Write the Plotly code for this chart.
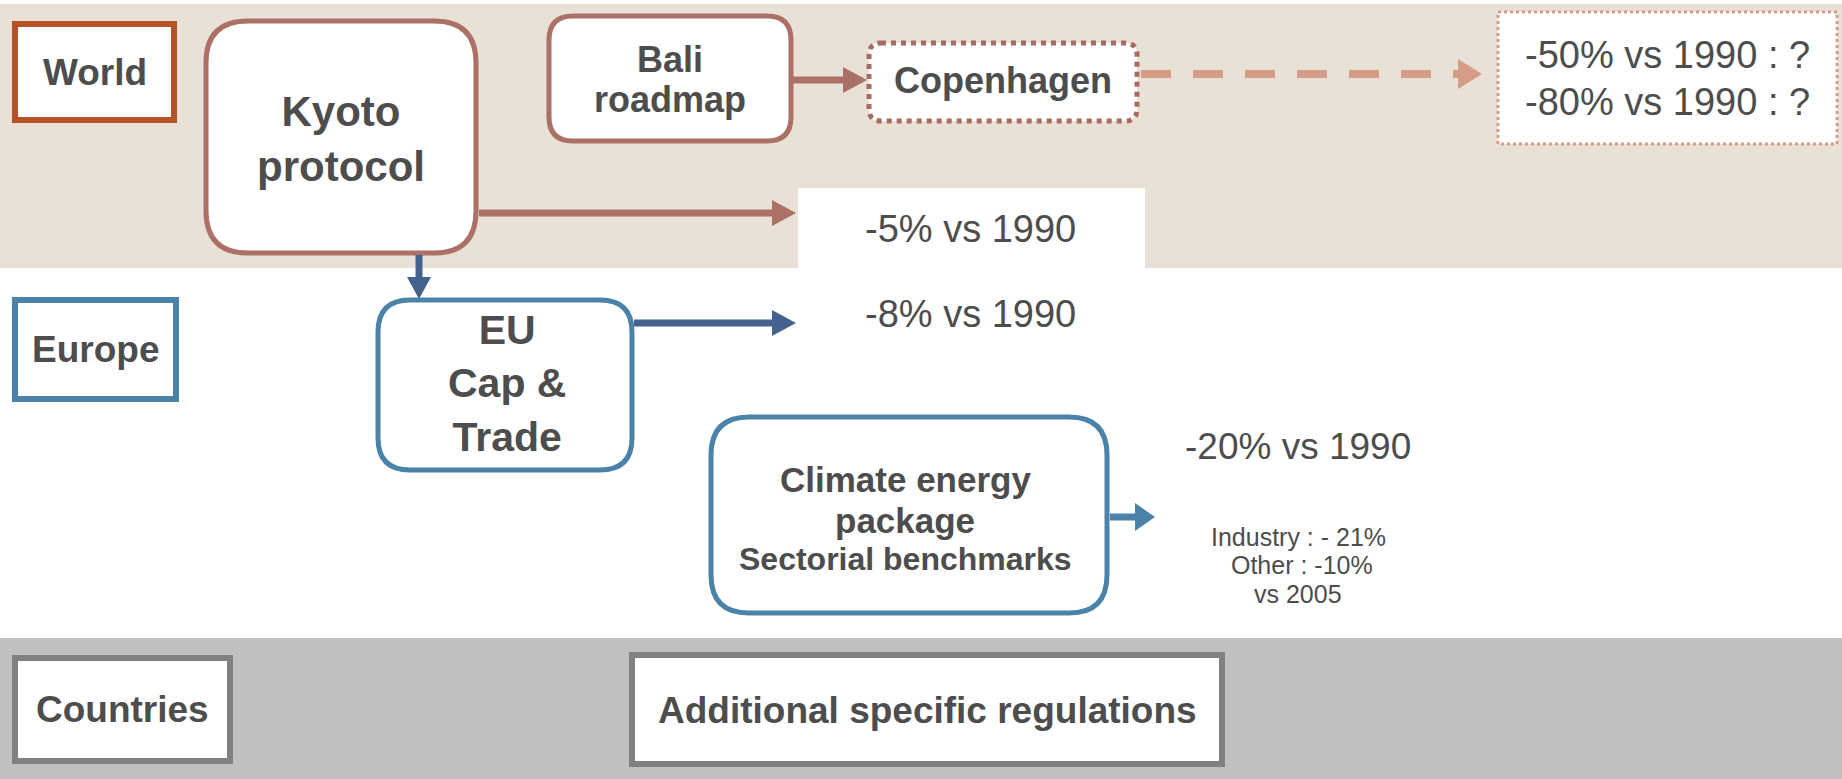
import plotly.graph_objects as go

W, H = 1842, 779
INK = "#4d4d4d"

# levels (row labels) and the measures / targets
levels = ["World", "Europe", "Countries"]
level_boxes = [(12, 21, 177, 123), (12, 297, 179, 402), (12, 655, 233, 764)]
level_colors = ["#b4522a", "#4a82a8", "#808080"]

measures = ["Kyoto<br>protocol", "Bali", "Copenhagen", "EU<br>Cap &<br>Trade",
            "Climate energy", "Additional specific regulations"]
measure_boxes = [(206, 21, 476, 253), (549, 16, 791, 141), (869, 43, 1137, 121),
                 (378, 300, 632, 470), (711, 417, 1107, 613), (632, 655, 1222, 764)]
measure_radius = [42, 24, 12, 32, 38, 0]
measure_colors = ["#ab7166", "#ab7166", "#a86a62", "#4a82a8", "#4a82a8", "#808080"]
measure_dash = ["solid", "solid", "dot", "solid", "solid", "solid"]
measure_sizes = [42, 36, 36, 41, 35, 37]

targets = ["-5% vs 1990", "-8% vs 1990", "-20% vs 1990",
           "-50% vs 1990 : ?", "-80% vs 1990 : ?"]
target_pos = [(970, 229), (970, 314), (1298, 446), (1667, 55), (1667, 102)]

sector_lines = ["Industry : - 21%", " Other : -10%", "vs 2005"]
sector_y = [537, 565, 594]


def rounded(x0, y0, x1, y1, r):
    if r == 0:
        return f"M{x0},{y0} L{x1},{y0} L{x1},{y1} L{x0},{y1} Z"
    return (f"M{x0 + r},{y0} L{x1 - r},{y0} Q{x1},{y0} {x1},{y0 + r} "
            f"L{x1},{y1 - r} Q{x1},{y1} {x1 - r},{y1} L{x0 + r},{y1} "
            f"Q{x0},{y1} {x0},{y1 - r} L{x0},{y0 + r} Q{x0},{y0} {x0 + r},{y0} Z")


shapes = []
# background bands
shapes.append(dict(type="rect", x0=0, y0=4, x1=W, y1=268, fillcolor="#e9e1d5", line_width=0, layer="below"))
shapes.append(dict(type="rect", x0=0, y0=638, x1=W, y1=H, fillcolor="#c0c0c0", line_width=0, layer="below"))
# white target box inside the world band
shapes.append(dict(type="rect", x0=798, y0=188, x1=1145, y1=268, fillcolor="white", line_width=0, layer="below"))
# dotted result box
shapes.append(dict(type="rect", x0=1498, y0=12, x1=1837, y1=144, fillcolor="white",
                   line=dict(color="#d59c8a", width=3, dash="dot")))

for (x0, y0, x1, y1), c in zip(level_boxes, level_colors):
    shapes.append(dict(type="rect", x0=x0 + 3, y0=y0 + 3, x1=x1 - 3, y1=y1 - 3, fillcolor="white",
                       line=dict(color=c, width=6)))

for (x0, y0, x1, y1), r, c, d in zip(measure_boxes, measure_radius, measure_colors, measure_dash):
    lw = 5 if d == "dot" else (6 if r == 0 else 5)
    shapes.append(dict(type="path", path=rounded(x0, y0, x1, y1, r), fillcolor="white",
                       line=dict(color=c, width=lw, dash=d)))


def arrow(x0, y0, x1, y1, color, width, head_len, head_w, dash="solid"):
    # straight arrow, horizontal or vertical
    if y0 == y1:
        bx = x1 - head_len
        shapes.append(dict(type="line", x0=x0, y0=y0, x1=bx, y1=y1, line=dict(color=color, width=width, dash=dash)))
        shapes.append(dict(type="path", path=f"M{bx},{y1 - head_w} L{x1},{y1} L{bx},{y1 + head_w} Z",
                           fillcolor=color, line_width=0))
    else:
        by = y1 - head_len
        shapes.append(dict(type="line", x0=x0, y0=y0, x1=x1, y1=by, line=dict(color=color, width=width)))
        shapes.append(dict(type="path", path=f"M{x1 - head_w},{by} L{x1},{y1} L{x1 + head_w},{by} Z",
                           fillcolor=color, line_width=0))


arrow(479, 213, 796, 213, "#ab7166", 7, 24, 13)
arrow(793, 80, 867, 80, "#ab7166", 7, 24, 13)
arrow(1141, 74, 1482, 74, "#d59c8a", 8, 24, 15, dash="30px,22px")
arrow(419, 255, 419, 299, "#44628e", 7, 22, 12)
arrow(634, 323, 796, 323, "#44628e", 7, 24, 13)
arrow(1110, 517, 1155, 517, "#4a82a8", 7, 20, 14)

annotations = []


def label(x, y, text, size, bold=True):
    annotations.append(dict(x=x, y=y, text=text, showarrow=False, xanchor="center", yanchor="middle",
                            align="center",
                            font=dict(family="Liberation Sans", size=size, color=INK,
                                      weight="bold" if bold else "normal")))


for (x0, y0, x1, y1), t in zip(level_boxes, levels):
    label((x0 + x1) / 2, (y0 + y1) / 2, t, 37)

label(341, 139, measures[0], measure_sizes[0])
label(670, 59, measures[1], measure_sizes[1])
label(670, 99, "roadmap", measure_sizes[1])
label(1003, 80, measures[2], measure_sizes[2])
label(507, 383, measures[3], measure_sizes[3])
label(905, 479, measures[4], measure_sizes[4])
label(905, 520, "package", measure_sizes[4])
label(905, 559, "Sectorial benchmarks", 32)
label(927, 710, measures[5], measure_sizes[5])

for (x, y), t in zip(target_pos, targets):
    label(x, y, t, 38 if y < 400 else 37, bold=False)

for y, t in zip(sector_y, sector_lines):
    label(1298, y, t, 25, bold=False)

fig = go.Figure()
fig.update_layout(width=W, height=H, margin=dict(l=0, r=0, t=0, b=0),
                  paper_bgcolor="white", plot_bgcolor="white",
                  shapes=shapes, annotations=annotations, showlegend=False)
fig.update_xaxes(range=[0, W], visible=False, fixedrange=True)
fig.update_yaxes(range=[H, 0], visible=False, fixedrange=True)
# page body has a default 8px margin; drop it so the figure sits at the window corner
fig.write_html("out.html", config={"displayModeBar": False},
               post_script="document.body.style.margin='0';")
